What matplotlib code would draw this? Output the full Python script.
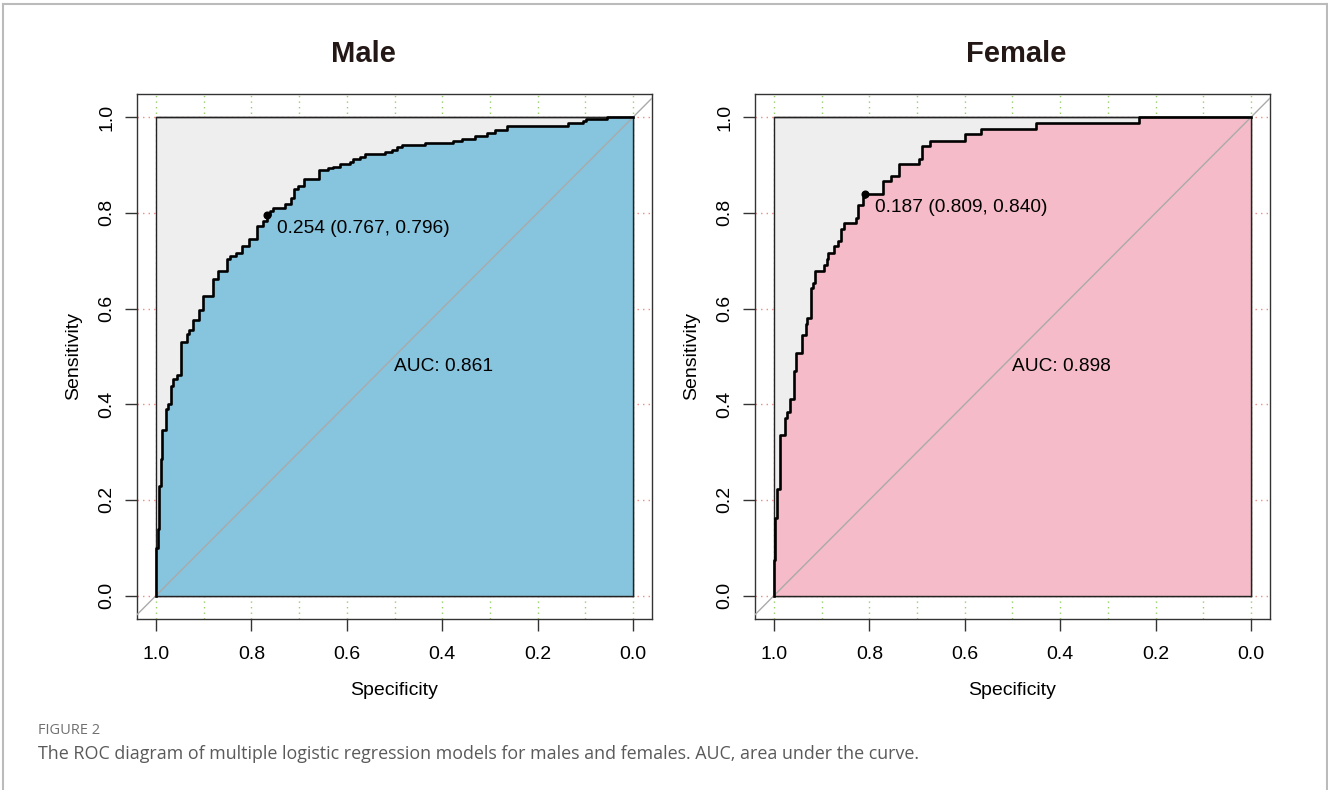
import numpy as np
import matplotlib
matplotlib.use("Agg")
import matplotlib.pyplot as plt
from matplotlib.lines import Line2D

# ROC step vertices (specificity, sensitivity)
male_spec = [1.000, 1.000, 0.997, 0.993, 0.990, 0.988, 0.979, 0.974, 0.969, 0.964,
             0.957, 0.948, 0.936, 0.930, 0.922, 0.911, 0.902, 0.880, 0.871, 0.852,
             0.845, 0.832, 0.820, 0.806, 0.789, 0.775, 0.767, 0.761, 0.754, 0.730,
             0.718, 0.711, 0.702, 0.690, 0.658, 0.639, 0.628, 0.614, 0.593, 0.586,
             0.572, 0.562, 0.520, 0.506, 0.495, 0.485, 0.436, 0.377, 0.359, 0.331,
             0.307, 0.289, 0.265, 0.136, 0.104, 0.099, 0.054, 0.000]
male_sens = [0.000, 0.100, 0.140, 0.230, 0.285, 0.347, 0.389, 0.400, 0.438, 0.452,
             0.462, 0.530, 0.546, 0.556, 0.577, 0.598, 0.626, 0.661, 0.678, 0.703,
             0.710, 0.717, 0.731, 0.745, 0.773, 0.783, 0.796, 0.804, 0.811, 0.818,
             0.832, 0.849, 0.856, 0.870, 0.889, 0.893, 0.897, 0.902, 0.907, 0.912,
             0.917, 0.923, 0.928, 0.932, 0.937, 0.941, 0.947, 0.950, 0.955, 0.961,
             0.968, 0.973, 0.982, 0.987, 0.992, 0.996, 1.000, 1.000]

female_spec = [1.000, 1.000, 0.998, 0.994, 0.987, 0.977, 0.973, 0.966, 0.959, 0.954,
               0.941, 0.933, 0.930, 0.923, 0.918, 0.914, 0.895, 0.890, 0.886, 0.874,
               0.865, 0.860, 0.853, 0.828, 0.823, 0.813, 0.809, 0.772, 0.755, 0.738,
               0.697, 0.689, 0.673, 0.600, 0.567, 0.451, 0.234, 0.000]
female_sens = [0.000, 0.075, 0.163, 0.223, 0.335, 0.372, 0.383, 0.410, 0.469, 0.508,
               0.544, 0.567, 0.581, 0.642, 0.654, 0.678, 0.692, 0.703, 0.717, 0.731,
               0.741, 0.766, 0.778, 0.790, 0.816, 0.834, 0.840, 0.867, 0.877, 0.902,
               0.913, 0.939, 0.950, 0.964, 0.975, 0.989, 1.000, 1.000]

titles = ["Male", "Female"]
auc_values = [0.861, 0.898]
thresholds = [0.254, 0.187]
best_spec = [0.767, 0.809]
best_sens = [0.796, 0.840]
fill_colors = ["#87C4DD", "#F5BBC8"]
tick_values = [1.0, 0.8, 0.6, 0.4, 0.2, 0.0]

W, H = 1328, 790


def draw_roc(ax, spec, sens, auc, thr, bspec, bsens, color):
    ax.set_xlim(1.04, -0.04)
    ax.set_ylim(-0.048, 1.048)

    # pROC-style grid, only shows in the margins
    for g in np.arange(0, 1.01, 0.1):
        ax.axvline(g, color="#99D066", lw=1, ls=(0, (1, 3)), zorder=0)
    for g in np.arange(0, 1.01, 0.2):
        ax.axhline(g, color="#F08A80", lw=1, ls=(0, (1, 3)), zorder=0)

    ax.fill([1, 0, 0, 1], [0, 0, 1, 1], facecolor="#EEEEEE",
            edgecolor="#222222", lw=1.0, zorder=1)
    ax.fill_between(spec, sens, 0, step="post", facecolor=color,
                    edgecolor="none", zorder=2)
    ax.plot([1, 0, 0], [1, 1, 0], color="#222222", lw=1.0, zorder=3)
    ax.plot([1, 0], [0, 0], color="#222222", lw=1.0, zorder=3)
    ax.axline((1, 0), (0, 1), color="#AAAAAA", lw=1.0, zorder=3)
    ax.plot(spec, sens, drawstyle="steps-post", color="black", lw=1.9,
            zorder=4)
    ax.plot([bspec], [bsens], "o", color="black", ms=4.8, zorder=5)

    ax.text(bspec - 0.02, bsens - 0.011, f"{thr:.3f} ({bspec:.3f}, {bsens:.3f})",
            ha="left", va="top", fontsize=13.8, zorder=6)
    ax.text(0.5, 0.497, f"AUC: {auc:.3f}", ha="left", va="top",
            fontsize=13.8, zorder=6)

    ax.set_xticks(tick_values)
    ax.set_yticks(tick_values)
    ax.set_xticklabels([f"{v:.1f}" for v in tick_values])
    ax.set_yticklabels([f"{v:.1f}" for v in tick_values], rotation=90,
                       va="center")
    ax.tick_params(direction="out", length=8.6, width=1.0, labelsize=14,
                   color="#333333")
    ax.tick_params(axis="x", pad=11)
    ax.tick_params(axis="y", pad=7)
    for s in ax.spines.values():
        s.set_color("#333333")
        s.set_linewidth(1.0)
    ax.set_xlabel("Specificity", fontsize=14, labelpad=14)
    ax.set_ylabel("Sensitivity", fontsize=14, labelpad=12)


def main():
    plt.rcParams["font.family"] = ["Liberation Sans", "DejaVu Sans"]
    fig = plt.figure(figsize=(W / 100, H / 100), dpi=100)

    lefts = [137, 755]
    title_x = [363.5, 1016]
    box_w, box_top, box_bot = 515, 94.3, 618.5
    all_spec = [male_spec, female_spec]
    all_sens = [male_sens, female_sens]

    for i in range(2):
        ax = fig.add_axes([lefts[i] / W, 1 - box_bot / H, box_w / W,
                           (box_bot - box_top) / H])
        draw_roc(ax, all_spec[i], all_sens[i], auc_values[i], thresholds[i],
                 best_spec[i], best_sens[i], fill_colors[i])
        fig.text(title_x[i] / W, 1 - 54 / H, titles[i], ha="center",
                 va="center", fontsize=21, fontweight="bold", color="#231815")

    # page frame and caption
    frame = dict(color="#BBBBBB", lw=1.5, transform=fig.transFigure)
    fig.add_artist(Line2D([3 / W, 3 / W], [0, 1 - 3.5 / H], **frame))
    fig.add_artist(Line2D([3 / W, 1326.5 / W], [1 - 3.5 / H, 1 - 3.5 / H], **frame))
    fig.add_artist(Line2D([1326.5 / W, 1326.5 / W], [0, 1 - 3.5 / H], **frame))

    fig.text(38 / W, 1 - 731 / H, "FIGURE 2", ha="left", va="center",
             fontsize=10.5, color="#707070", family=["Open Sans", "DejaVu Sans"])
    fig.text(38 / W, 1 - 754 / H,
             "The ROC diagram of multiple logistic regression models for males "
             "and females. AUC, area under the curve.",
             ha="left", va="center", fontsize=12.9, color="#5A5A5A",
             family=["Open Sans", "DejaVu Sans"])

    fig.savefig("out.png", dpi=100)
    plt.close(fig)


if __name__ == "__main__":
    main()
